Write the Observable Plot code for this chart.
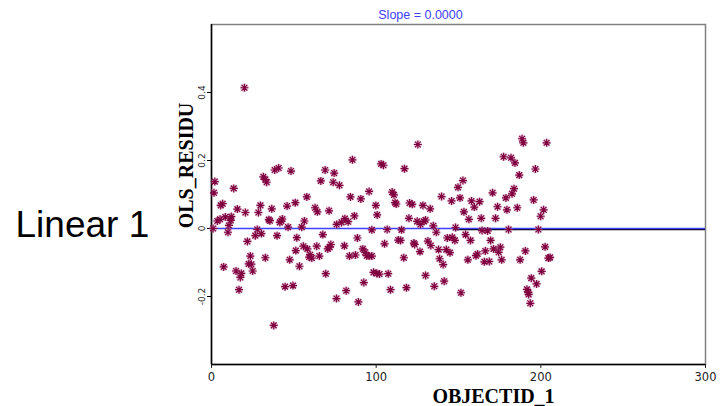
<!DOCTYPE html>
<html>
<head>
<meta charset="utf-8">
<script src="https://cdn.jsdelivr.net/npm/d3@7"></script>
<script src="https://cdn.jsdelivr.net/npm/@observablehq/plot@0.6"></script>
<style>
  html, body { margin: 0; padding: 0; background: #fff; }
  #chart { width: 726px; height: 406px; }
</style>
</head>
<body>
<div id="chart"></div>
<script>
// ---- data ----
const objectId = [
  20,2,1.5,13.5,5.6,6.8,15.7,20.6,29.7,28.5,36.6,45.9,50.9,31.5,32.7,33.5,38.4,40.8,48.3,3.5,5.2,8.4,12,11.7,10.6,10,1,34.8,35.5,42.4,43,41.5,27.8,30.3,26.6,46.5,39.8,51.8,21.8,51.2,23.6,32.7,47.5,7.4,22.6,24.2,25,14.9,18.1,17.5,16.7,44.7,49.5,37.8,53.4,
  57.9,56.4,54.8,62.9,64.3,71.4,66.4,69,74.5,73.9,77.7,85.6,84.4,90.7,95.7,99.8,100.6,103,104.4,76,79,81,83,86.8,97.4,67.6,88.6,105.1,55.8,58.2,59.9,60.9,59.3,63.9,65.5,70.6,72.5,71.8,80.7,83.8,87.4,91.9,93.3,94.3,95.7,97.4,69.4,98.4,100.4,102,92.5,81.8,75.9,89.2,
  125.3,117.2,109.7,110.8,111.5,112.2,120.3,121.9,128.4,132.8,139.7,145.8,150.9,149.7,152.7,157.9,153.3,156.3,119.9,124.9,126.9,129,130,134.7,136.5,148.2,106.7,115.4,113.4,114.8,122.9,123.4,126.6,131.4,133.2,137.9,142.6,144.8,143.2,146.2,147.8,154.3,157.3,116.8,138.5,140.7,155.7,107.3,130,108.7,118.4,135.3,141.3,151.5,
  159.6,162.8,163.8,172.5,170.7,173.7,178.8,179.4,182.5,183.7,185.7,186.9,177.4,181.9,184.3,188.6,189.4,203.5,196.7,195.6,201.7,199.9,164.3,167.7,180.4,198.5,169.5,166.3,171.3,175.4,174.4,160.6,161.6,165.7,168.7,176.2,190.6,187.4,202.6,204.6,205.6,200.5,194.2,197.4,191.6,192.4,192.6,193.6
];
const olsResidu = [
  0.414,0.138,0.105,0.118,0.068,0.073,0.057,0.047,0.068,0.047,0.058,0.066,0.076,0.152,0.144,0.136,0.172,0.178,0.169,0.022,0.027,0.034,0.035,0.024,0.009,-0.011,0,0.026,0.023,0.022,0.028,0.018,-0.003,-0.015,-0.021,0.004,-0.021,-0.027,-0.038,-0.065,-0.081,-0.086,-0.092,-0.113,-0.104,-0.105,-0.125,-0.125,-0.132,-0.144,-0.18,-0.171,-0.168,-0.285,-0.111,
  0.093,0.022,0.004,0.061,0.049,0.052,0.14,0.172,0.163,0.136,0.127,0.202,0.093,0.087,0.109,0.068,0.04,0.19,0.186,0.012,0.018,0.029,0.02,0.037,-0.004,-0.018,-0.028,-0.045,-0.052,-0.06,-0.077,-0.087,-0.084,-0.052,-0.081,-0.06,-0.047,-0.055,-0.051,-0.081,-0.078,-0.06,-0.07,-0.08,-0.081,-0.081,-0.133,-0.129,-0.132,-0.134,-0.159,-0.183,-0.206,-0.216,
  0.247,0.176,0.107,0.099,0.076,0.072,0.075,0.071,0.068,0.058,0.094,0.081,0.09,0.121,0.141,0.081,0.049,0.027,0.03,0.021,0.012,0.021,0.025,0.008,-0.011,0.003,-0.003,-0.004,-0.034,-0.035,-0.043,-0.047,-0.068,-0.037,-0.05,-0.062,-0.062,-0.071,-0.028,-0.026,-0.035,-0.018,-0.035,-0.086,-0.089,-0.106,-0.092,-0.133,-0.138,-0.18,-0.174,-0.17,-0.155,-0.189,
  0.063,0.079,0.03,0.03,0.105,0.064,0.09,0.055,0.102,0.117,0.061,0.157,0.211,0.208,0.193,0.264,0.252,0.252,0.175,0.084,0.055,0.036,-0.006,-0.007,-0.003,-0.003,-0.035,-0.066,-0.06,-0.055,-0.07,-0.08,-0.075,-0.098,-0.097,-0.092,-0.066,-0.092,-0.054,-0.087,-0.085,-0.126,-0.146,-0.163,-0.179,-0.188,-0.194,-0.22
];
const xDomain = [0, 300];
const yDomain = [-0.4, 0.6];
const xTicks = [0, 100, 200, 300];
const yTicks = [-0.2, 0, 0.2, 0.4];
const slopeLine = [0];          // fitted regression line (slope 0, intercept 0)
const zeroRefX = [147, 300];    // dark reference segment along y = 0
const titleText = "Slope = 0.0000";
const xLabel = "OBJECTID_1";
const yLabel = "OLS_RESIDU";
const sideLabel = "Linear 1";

const points = objectId.map((x, i) => ({x, y: olsResidu[i]}));

const asterisk = {
  draw(ctx, size) {
    const r = Math.sqrt(size / Math.PI);
    const d = r * 0.72;
    ctx.moveTo(-r, 0); ctx.lineTo(r, 0);
    ctx.moveTo(0, -r); ctx.lineTo(0, r);
    ctx.moveTo(-d, -d); ctx.lineTo(d, d);
    ctx.moveTo(-d, d); ctx.lineTo(d, -d);
  }
};

const chart = Plot.plot({
  width: 726,
  height: 406,
  marginLeft: 211,
  marginRight: 21,
  marginTop: 24,
  marginBottom: 42,
  style: {background: "#fff", overflow: "visible"},
  x: {domain: xDomain},
  y: {domain: yDomain},
  marks: [
    Plot.frame({stroke: "#808080", strokeWidth: 1.5}),
    Plot.ruleX([xDomain[0]], {stroke: "#000", strokeWidth: 1.5}),
    Plot.ruleY([yDomain[0]], {stroke: "#000", strokeWidth: 1.5}),
    Plot.axisX({ticks: xTicks, tickSize: 4, tickPadding: 4, fontSize: 11.5, fontFamily: "DejaVu Sans", color: "#222", label: null}),
    Plot.axisY({ticks: yTicks, tickSize: 4, tickFormat: () => "", label: null}),
    Plot.text(yTicks, {y: d => d, text: d => d === 0 ? "0" : String(d), frameAnchor: "left", dx: -9, rotate: -90, fontSize: 9, fontFamily: "DejaVu Sans", fill: "#222", textAnchor: "middle", lineAnchor: "middle"}),
    Plot.ruleY(slopeLine, {x1: zeroRefX[0], x2: zeroRefX[1], stroke: "#000", strokeWidth: 1.5, dy: 1}),
    Plot.ruleY(slopeLine, {x1: xDomain[0], x2: xDomain[1], stroke: "#4040ff", strokeWidth: 1.5}),
    Plot.dot(points, {x: "x", y: "y", r: 4.2, fill: "#c07aa0", fillOpacity: 0.4, stroke: "none"}),
    Plot.dot(points, {x: "x", y: "y", r: 4.0, symbol: asterisk, fill: "none", stroke: "#800040", strokeWidth: 1.2}),
    Plot.text([titleText], {frameAnchor: "top", dx: -38, dy: -10, fill: "#4040ff", fontSize: 12.5, fontFamily: "Liberation Sans Narrow, Liberation Sans", lineAnchor: "middle"}),
    Plot.text([xLabel], {frameAnchor: "bottom", dx: 35, dy: 32, fontSize: 20, fontWeight: "bold", fontFamily: "Liberation Serif", fill: "#000", lineAnchor: "middle"}),
    Plot.text([yLabel], {frameAnchor: "left", dx: -25, dy: -29, rotate: -90, textAnchor: "middle", fontSize: 20, fontWeight: "bold", fontFamily: "Liberation Serif", fill: "#000", lineAnchor: "middle"}),
    Plot.text([sideLabel], {frameAnchor: "left", dx: -196, dy: 31, textAnchor: "start", fontSize: 37, fontFamily: "Liberation Sans", fill: "#000", lineAnchor: "middle"})
  ]
});
document.getElementById("chart").appendChild(chart);
</script>
</body>
</html>
